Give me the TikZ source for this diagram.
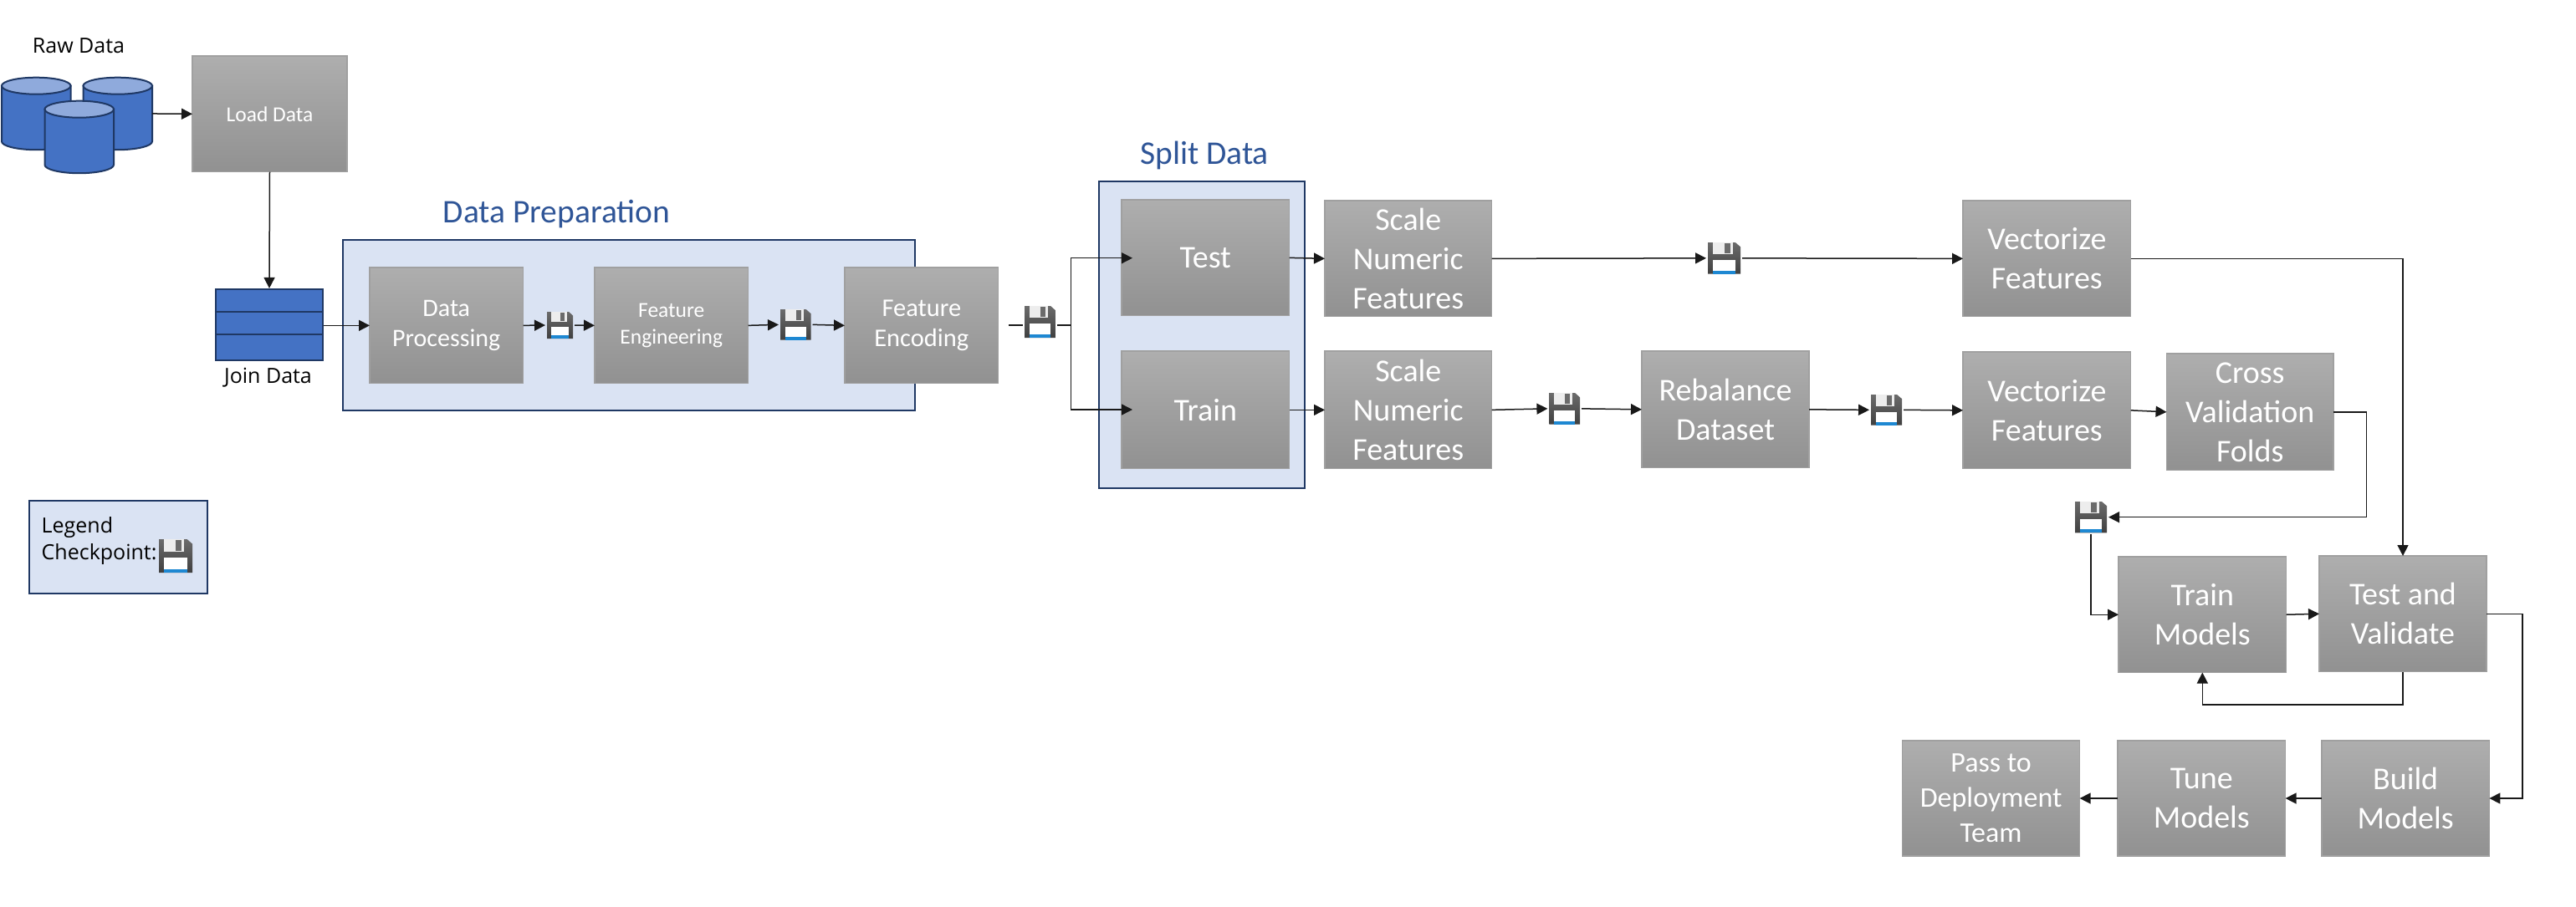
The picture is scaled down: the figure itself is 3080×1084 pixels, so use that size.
\documentclass[tikz,border=0pt]{standalone}
\usepackage{fontspec}
\setmainfont{Carlito}
\newfontfamily\segoe{Open Sans}
\usetikzlibrary{arrows.meta,calc,shapes.geometric}
\definecolor{panelfill}{HTML}{DAE3F3}
\definecolor{navy}{HTML}{1F3864}
\definecolor{titleblue}{HTML}{2F5597}
\definecolor{cylblue}{HTML}{4472C4}
\definecolor{cyltop}{HTML}{8FAADC}
\definecolor{boxtop}{HTML}{AEAEAE}
\definecolor{boxbot}{HTML}{919191}
\definecolor{boxline}{HTML}{A0A0A0}
\definecolor{diskblue}{HTML}{1E88D2}
\tikzset{
  stepbox/.style={rectangle,draw=boxline,line width=1.2pt,top color=boxtop,bottom color=boxbot,text=white,align=center,inner sep=0pt,outer sep=0pt},
  panel/.style={rectangle,draw=navy,line width=2.4pt,fill=panelfill,inner sep=0pt,outer sep=0pt},
  conn/.style={draw=black!90,line width=1.5pt,-{Triangle[length=13pt,width=13pt]}},
  plain/.style={draw=black!90,line width=1.5pt},
  title/.style={text=titleblue,inner sep=0pt,font=\fontsize{39.5}{46}\selectfont},
  label/.style={text=black,inner sep=0pt,font=\segoe\fontsize{25}{30}\selectfont},
  szA/.style={font=\fontsize{38}{47}\selectfont},
  szB/.style={font=\fontsize{30}{36.5}\selectfont},
  szC/.style={font=\fontsize{25.5}{32}\selectfont},
  szD/.style={font=\fontsize{34}{42}\selectfont},
  szE/.style={font=\fontsize{25.5}{30}\selectfont},
  szF/.style={font=\fontsize{30.5}{35.5}\selectfont},
}
% name, x1, y1, x2, y2, style, text
\newcommand{\spanbox}[7]{\node[#6,minimum width={(#4)-(#2)},minimum height={(#5)-(#3)}] (#1) at ({((#2)+(#4))/2},{((#3)+(#5))/2}) {#7};}
% name, x1, y1, x2, y2
\newcommand{\disknode}[5]{%
  \node[rectangle,inner sep=0pt,outer sep=2pt,minimum width={(#4)-(#2)},minimum height={(#5)-(#3)}] (#1) at ({((#2)+(#4))/2},{((#3)+(#5))/2}) {};
  \begin{scope}[shift={(#2,#3)},xscale={(#4)-(#2)},yscale={(#5)-(#3)}]
    \shade[top color=black!58,bottom color=black!75]
      (0,0) -- (.84,0) -- (1,.14) -- (1,1) -- (0,1) -- cycle;
    \fill[black!7] (.16,0) rectangle (.76,.38);
    \fill[black!58] (.51,.03) rectangle (.68,.35);
    \fill[white] (.16,.56) rectangle (.84,.89);
    \fill[diskblue] (.16,.89) rectangle (.84,1);
  \end{scope}}
% name, x1, y1 (width 82.5, height 86.5)
\newcommand{\cylnode}[3]{%
  \node[rectangle,inner sep=0pt,outer sep=0pt,minimum width=82.5,minimum height=86.5] (#1) at ({(#2)+41.25},{(#3)+43.25}) {};
  \begin{scope}[shift={({(#2)+41.25},#3)}]
    \draw[navy,line width=2pt,fill=cylblue]
      (-41.25,10) -- (-41.25,76.5) .. controls (-41.25,82) and (-22.8,86.5) .. (0,86.5)
      .. controls (22.8,86.5) and (41.25,82) .. (41.25,76.5) -- (41.25,10) -- cycle;
    \draw[navy,line width=2pt,fill=cyltop] (0,10) ellipse [x radius=41.25,y radius=10];
  \end{scope}}
\begin{document}
\begin{tikzpicture}[x=1pt,y=-1pt]
\useasboundingbox[fill=white] (0,0) rectangle (3080,1084);

% panels
\spanbox{prep}{410}{286.7}{1094}{491}{panel}{}
\spanbox{splitp}{1314}{216.7}{1560}{584}{panel}{}
\spanbox{legend}{34.7}{599}{248}{710}{panel}{}

% titles and labels
\node[title] (preptitle) at (665.5,256) {Data Preparation};
\node[title] (splittitle) at (1440,186) {Split Data};
\node[label] (rawlabel) at (94,55) {Raw Data};
\node[label] (joinlabel) at (320.5,452) {Join Data};
\node[label,anchor=west,align=left,font=\segoe\fontsize{25}{32}\selectfont] (legendtext) at (49.5,647) {Legend\\Checkpoint:};

% cylinders
\cylnode{rawA}{2}{92.7}
\cylnode{rawB}{99.5}{92.7}
\cylnode{rawC}{53.5}{120.7}

% join table
\spanbox{join}{258}{346}{386}{431}{rectangle,draw=navy,line width=2.2pt,fill=cylblue}{}
\draw[navy,line width=2.2pt] (join.west |- 0,372.7) -- (join.east |- 0,372.7);
\draw[navy,line width=2.2pt] (join.west |- 0,399.7) -- (join.east |- 0,399.7);

% process boxes
\spanbox{load}{230}{67}{415}{205.7}{stepbox,szE}{Load Data}
\spanbox{dp}{442}{320}{625.5}{458.7}{stepbox,szB}{Data\\Processing}
\spanbox{fe}{711}{320}{894.5}{458.7}{stepbox,szC}{Feature\\Engineering}
\spanbox{fenc}{1010}{320}{1193.7}{458.7}{stepbox,szF}{Feature\\Encoding}
\spanbox{test}{1341}{239}{1541.6}{377.7}{stepbox,szA}{Test}
\spanbox{train}{1341}{420}{1541.6}{560.7}{stepbox,szA}{Train}
\spanbox{scaleA}{1584}{240}{1783.6}{378.7}{stepbox,szA}{Scale\\Numeric\\Features}
\spanbox{scaleB}{1584}{420}{1783.6}{560.7}{stepbox,szA}{Scale\\Numeric\\Features}
\spanbox{rebal}{1963}{420}{2163}{559.7}{stepbox,szA}{Rebalance\\Dataset}
\spanbox{vecA}{2347}{240}{2547.7}{378.7}{stepbox,szA}{Vectorize\\Features}
\spanbox{vecB}{2347}{421}{2547.7}{560.7}{stepbox,szA}{Vectorize\\Features}
\spanbox{cv}{2590.5}{423}{2790}{562.7}{stepbox,szA}{Cross\\Validation\\Folds}
\spanbox{trainm}{2533}{666}{2733.6}{804.5}{stepbox,szA}{Train\\Models}
\spanbox{tv}{2773}{665}{2973}{803.6}{stepbox,szA}{Test and\\Validate}
\spanbox{build}{2776}{886}{2976.4}{1024}{stepbox,szA}{Build\\Models}
\spanbox{tune}{2532}{886}{2732.6}{1024}{stepbox,szA}{Tune\\Models}
\spanbox{pass}{2274.6}{886}{2486.6}{1024}{stepbox,szD}{Pass to\\Deployment\\Team}

% checkpoints
\disknode{dA}{654}{373}{685}{405}
\disknode{dB}{933}{370}{969.5}{406.7}
\disknode{dC}{1225}{366}{1262}{404}
\disknode{dD}{2042}{290}{2081}{327.7}
\disknode{dE}{1852.4}{470}{1889}{507.7}
\disknode{dF}{2237}{472}{2274}{508.7}
\disknode{dG}{2481}{600}{2519}{637.4}
\disknode{dL}{190}{645}{230}{685}

% free ends
\coordinate (fork) at (1280.7,389);
\coordinate (stub) at (1206,389);
\coordinate (testin) at (1354,308.7);
\coordinate (trainin) at (1354,490);

% connectors
\draw[conn] (rawB.east) -- (load.west);
\draw[conn] (load.south) -- (join.north);
\draw[conn] (join.east |- dp.west) -- (dp.west);
\draw[conn] (dp.east) -- (dA.west);
\draw[conn] (dA.east) -- (fe.west);
\draw[conn] (fe.east) -- (dB.west);
\draw[conn] (dB.east) -- (fenc.west);
\draw[plain] (stub) -- (stub -| dC.west);
\draw[plain] (stub -| dC.east) -- (fork);
\draw[conn] (fork) |- (testin);
\draw[conn] (fork) |- (trainin);
\draw[conn] (test.east) -- (scaleA.west);
\draw[conn] (train.east) -- (scaleB.west);
\draw[conn] (scaleA.east) -- (dD.west);
\draw[conn] (dD.east) -- (vecA.west);
\draw[conn] (scaleB.east) -- (dE.west);
\draw[conn] (dE.east) -- (rebal.west);
\draw[conn] (rebal.east) -- (dF.west);
\draw[conn] (dF.east) -- (vecB.west);
\draw[conn] (vecB.east) -- (cv.west);
\draw[conn] (cv.east) -- ++(39.5,0) |- (dG.east);
\draw[conn] (dG.south) |- (trainm.west);
\draw[conn] (trainm.east) -- (tv.west);
\draw[conn] (vecA.east) -| (tv.north);
\draw[conn] (tv.south) -- ++(0,39.5) -| (trainm.south);
\draw[conn] (tv.east) -- ++(43,0) |- (build.east);
\draw[conn] (build.west) -- (tune.east);
\draw[conn] (tune.west) -- (pass.east);
\end{tikzpicture}
\end{document}
